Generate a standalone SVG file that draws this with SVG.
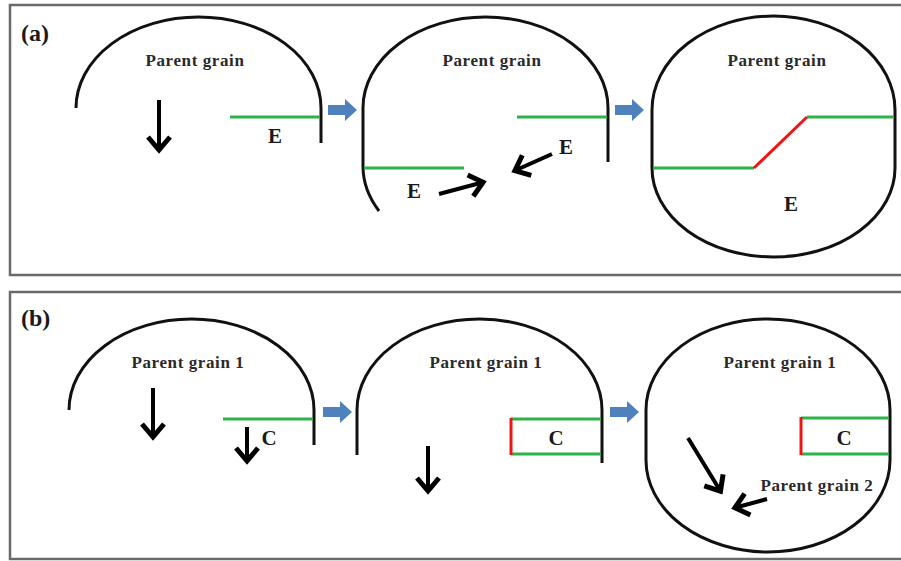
<svg xmlns="http://www.w3.org/2000/svg" width="901" height="561" viewBox="0 0 901 561">
<defs>
<style>
.frame{fill:#fff;stroke:#6a6a6a;stroke-width:2.5}
.grain{fill:none;stroke:#111;stroke-width:3}
.gb{stroke:#2db24a;stroke-width:3;fill:none}
.rb{stroke:#f01414;stroke-width:3;fill:none}
.arr{stroke:#000;stroke-width:4;fill:none;marker-end:url(#head)}
.blue{fill:#4f81bd}
.lbl{font-family:"Liberation Serif","Times New Roman",serif;font-weight:bold;fill:#1a1a1a}
.pg{font-size:17px;letter-spacing:0.6px;text-anchor:middle;fill:#2a2a2a}
.big{font-size:21px;text-anchor:middle}
.tag{font-size:24px}
</style>
<marker id="head" markerUnits="userSpaceOnUse" viewBox="-20 -14 24 28" markerWidth="24" markerHeight="28" refX="0" refY="0" orient="auto">
<path d="M-14,-11 L-1,0 L-14,11" fill="none" stroke="#000" stroke-width="5"/>
</marker>
</defs>
<rect x="0" y="0" width="901" height="561" fill="#fff"/>
<g id="panel-a">
<rect class="frame" x="10" y="5" width="900" height="270"/>
<text class="lbl tag" x="21" y="41">(a)</text>
</g>
<g id="panel-b">
<rect class="frame" x="10" y="292" width="900" height="267"/>
<text class="lbl tag" x="21" y="326">(b)</text>
</g>
<g id="a1">
<path class="grain" d="M76,108 A122.5,91 0 0 1 321,108 L321,143"/>
<line class="gb" x1="230" y1="117" x2="320" y2="117"/>
<text class="lbl pg" x="195" y="66">Parent grain</text>
<text class="lbl big" x="275" y="143">E</text>
</g>
<g id="a2">
<path class="grain" d="M379,211 A122.5,91 0 0 1 363,165 L363,108 A122.5,91 0 0 1 608,108 L608,162"/>
<line class="gb" x1="517" y1="117" x2="607" y2="117"/>
<line class="gb" x1="364" y1="168" x2="464" y2="168"/>
<text class="lbl pg" x="492" y="66">Parent grain</text>
<text class="lbl big" x="566" y="154">E</text>
<text class="lbl big" x="414" y="198">E</text>
</g>
<g id="a3">
<path class="grain" d="M652,110 A121.5,94 0 0 1 895,110 L895,168 A121.5,89 0 0 1 652,168 Z"/>
<line class="gb" x1="653" y1="168" x2="754" y2="168"/>
<line class="rb" x1="754" y1="168" x2="807" y2="117"/>
<line class="gb" x1="807" y1="117" x2="894" y2="117"/>
<text class="lbl pg" x="777" y="66">Parent grain</text>
<text class="lbl big" x="791" y="211">E</text>
</g>
<g id="b1">
<path class="grain" d="M69,410 A122.5,91 0 0 1 314,410 L314,445"/>
<line class="gb" x1="223" y1="419" x2="313" y2="419"/>
<text class="lbl pg" x="188" y="368">Parent grain 1</text>
<text class="lbl big" x="269" y="445">C</text>
</g>
<g id="b2">
<path class="grain" d="M357,455 L357,410 A122.5,91 0 0 1 602,410 L602,463"/>
<path class="gb" d="M511,419 L601,419 M511,454 L601,454"/>
<line class="rb" x1="511" y1="418" x2="511" y2="455"/>
<text class="lbl pg" x="486" y="368">Parent grain 1</text>
<text class="lbl big" x="556" y="445">C</text>
</g>
<g id="b3">
<path class="grain" d="M646,410 A122,91 0 0 1 890,410 L890,460 A122,92 0 0 1 646,460 Z"/>
<path class="gb" d="M801,418 L889,418 M801,454 L889,454"/>
<line class="rb" x1="801" y1="417" x2="801" y2="455"/>
<text class="lbl pg" x="780" y="368">Parent grain 1</text>
<text class="lbl pg" x="817" y="491">Parent grain 2</text>
<text class="lbl big" x="844" y="445">C</text>
</g>
<g id="connectors">
<polygon class="blue" points="328,105 345,105 345,99 357,110 345,121 345,115 328,115"/>
<polygon class="blue" points="615,105 632,105 632,99 644,110 632,121 632,115 615,115"/>
<polygon class="blue" points="323,407 340,407 340,401 352,412 340,423 340,417 323,417"/>
<polygon class="blue" points="610,407 627,407 627,401 639,412 627,423 627,417 610,417"/>
<line class="arr" x1="159" y1="100" x2="159" y2="151"/>
<line class="arr" x1="439" y1="194" x2="484" y2="182"/>
<line class="arr" x1="552" y1="154" x2="514" y2="171"/>
<line class="arr" x1="153" y1="388" x2="153" y2="438"/>
<line class="arr" x1="247" y1="427" x2="247" y2="462"/>
<line class="arr" x1="428" y1="446" x2="428" y2="492"/>
<line class="arr" x1="688" y1="438" x2="721" y2="492"/>
<line class="arr" x1="767" y1="499" x2="734" y2="508"/>
</g>
</svg>
